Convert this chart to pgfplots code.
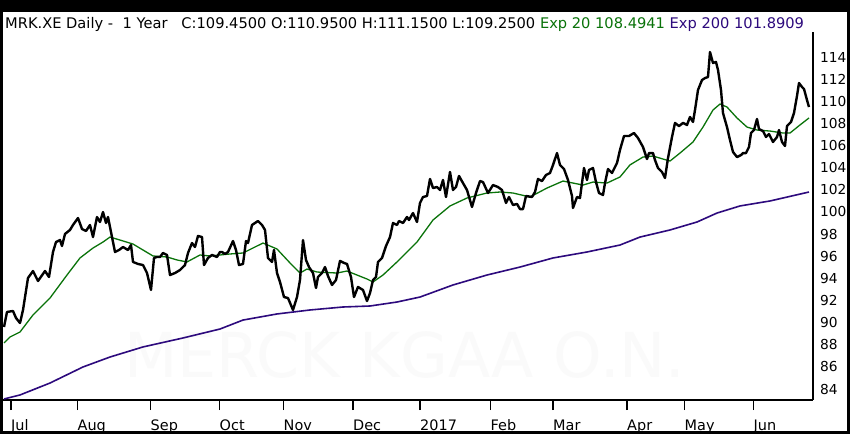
\documentclass[border=0pt]{standalone}
\usepackage{fontspec}
\setmainfont{DejaVu Sans}
\usepackage{pgfplots}
\pgfplotsset{compat=1.18}
\definecolor{emagreen}{RGB}{10,115,10}
\definecolor{emapurple}{RGB}{45,10,125}
\begin{document}
\begin{tikzpicture}
\begin{scope}[x=1bp,y=1bp]
\fill[black] (0,0) rectangle (850,434);
\fill[white] (3,3) rectangle (847,422);
\node[anchor=base west, inner sep=0pt, font=\fontsize{14.7}{16}\selectfont] at (5,405) {MRK.XE Daily -\ \ 1 Year\ \ \ C:109.4500 O:110.9500 H:111.1500 L:109.2500 \textcolor{emagreen}{Exp 20 108.4941} \textcolor{emapurple}{Exp 200 101.8909}};
\node[anchor=base west, inner sep=0pt, text=black!2, font=\fontsize{62}{70}\selectfont] at (124,57) {MERCK KGAA O.N.};
\end{scope}
\useasboundingbox (0bp,0bp) rectangle (850bp,434bp);
\begin{axis}[
  at={(3bp,34bp)}, anchor=south west,
  scale only axis, width=810bp, height=368bp,
  xmin=3, xmax=813, ymin=83.006, ymax=116.26,
  axis x line*=bottom, axis y line*=right,
  axis line style={-, line width=1.8bp, black},
  xtick={11,77.5,150.5,219.5,283.5,353,420,490.5,553,627,684.5,753.5},
  xticklabels={Jul,Aug,Sep,Oct,Nov,Dec,2017,Feb,Mar,Apr,May,Jun},
  ytick={84,86,...,114},
  tick align=outside,
  major tick length=10bp,
  xtick style={line width=1.8bp, black},
  ytick style={draw=none},
  yticklabel pos=right,
  xticklabel style={font=\fontsize{14.5}{16}\selectfont, anchor=base west, inner sep=0pt, yshift=-20bp},
  yticklabel style={font=\fontsize{13.8}{16}\selectfont, anchor=west, inner sep=0pt, xshift=-3bp},
  /pgf/number format/assume math mode=true,
  clip=false,
]
% EMA 200
\addplot[emapurple, line width=1.6bp] coordinates {
(4,83.10) (20,83.46) (50,84.54) (83,85.99) (110,86.89) (143,87.80) (183,88.61) (220,89.42)
(243,90.23) (277,90.78) (310,91.14) (343,91.41) (370,91.50) (397,91.86) (420,92.31) (453,93.40)
(487,94.30) (520,95.02) (553,95.84) (587,96.38) (620,97.01) (640,97.73) (670,98.37) (697,99.09)
(717,99.90) (740,100.54) (770,100.99) (809,101.80)
};
% EMA 20
\addplot[emagreen, line width=1.3bp] coordinates {
(4,88.16) (10,88.70) (20,89.15) (33,90.69) (50,92.22) (67,94.30) (80,95.84) (93,96.74)
(103,97.28) (110,97.73) (120,97.46) (133,97.10) (143,96.56) (153,96.02) (167,95.93) (177,95.66)
(187,95.48) (200,96.11) (210,96.02) (230,96.20) (243,96.29) (263,97.19) (277,96.65) (290,95.39)
(300,94.48) (307,94.84) (317,94.57) (337,94.48) (347,94.66) (357,94.30) (367,93.94) (373,93.67)
(383,94.30) (397,95.48) (417,97.28) (433,99.27) (450,100.54) (467,101.26) (487,101.71)
(500,101.80) (513,101.71) (530,101.35) (547,102.16) (563,102.79) (573,102.61) (583,102.43)
(593,102.70) (607,102.61) (620,103.16) (630,104.25) (643,104.96) (653,105.05) (663,104.78)
(670,104.60) (680,105.32) (693,106.32) (703,107.67) (713,109.21) (720,109.75) (727,109.48)
(737,108.49) (747,107.67) (757,107.40) (770,107.31) (783,107.13) (790,107.13) (800,107.86)
(809,108.49)
};
% Price
\addplot[black, line width=2.4bp, line join=round] coordinates {
(4,89.60) (7,90.96) (13,91.05) (16,90.42) (20,89.96) (23,91.14) (28,94.03) (33,94.66)
(38,93.76) (45,94.66) (49,94.12) (53,96.38) (56,97.28) (60,97.46) (62,96.92) (65,98.01)
(70,98.37) (73,98.82) (78,99.45) (82,98.46) (86,98.28) (90,98.82) (93,97.73) (97,99.54)
(100,99.09) (103,99.99) (106,99.00) (108,99.54) (112,97.73) (115,96.38) (119,96.56) (123,96.83)
(128,96.56) (131,97.01) (133,95.48) (138,95.30) (143,95.20) (147,94.48) (151,92.95) (154,95.84)
(157,95.93) (160,95.93) (163,96.29) (167,96.11) (170,94.30) (175,94.48) (180,94.75) (185,95.20)
(188,96.29) (192,97.19) (195,96.83) (198,97.83) (202,97.73) (204,95.20) (208,95.84) (212,96.11)
(217,95.93) (220,96.38) (222,96.38) (225,96.20) (228,96.38) (233,97.37) (236,96.56) (239,95.20)
(243,95.30) (246,97.37) (248,97.19) (252,98.82) (255,99.00) (258,99.18) (262,98.82) (265,98.37)
(268,95.84) (272,95.48) (274,96.56) (277,94.48) (280,93.67) (284,92.31) (288,92.22) (293,91.14)
(297,92.31) (300,93.85) (303,97.46) (306,95.66) (309,95.02) (313,94.48) (316,93.13) (318,94.12)
(322,94.48) (325,95.02) (328,94.21) (332,93.40) (336,93.85) (340,95.57) (344,95.39) (347,95.30)
(351,94.12) (354,92.31) (358,93.22) (363,92.95) (367,91.95) (370,92.67) (373,93.85) (376,94.12)
(378,95.48) (382,95.84) (386,96.92) (390,97.73) (393,99.00) (397,98.82) (399,99.18) (403,99.00)
(407,99.54) (409,99.27) (413,99.90) (417,99.09) (420,100.81) (423,101.35) (427,101.44)
(430,102.98) (433,102.16) (437,102.25) (440,101.98) (443,102.89) (446,101.35) (450,103.61)
(453,101.98) (456,102.25) (459,103.25) (463,102.61) (467,101.98) (472,100.45) (476,101.71)
(480,102.79) (483,102.70) (488,101.71) (493,102.43) (498,102.25) (502,101.98) (506,100.81)
(509,101.35) (513,100.63) (517,100.72) (520,100.26) (523,100.26) (526,101.44) (532,101.35)
(535,101.80) (538,102.98) (542,102.79) (546,103.34) (550,103.52) (553,104.24) (557,105.32)
(560,104.24) (564,103.88) (568,102.89) (572,101.44) (573,100.36) (577,101.35) (580,101.26)
(584,103.97) (587,102.89) (589,103.79) (593,103.97) (596,102.70) (599,101.71) (603,101.53)
(605,102.61) (608,103.88) (612,103.52) (617,104.42) (620,105.60) (624,106.86) (629,106.86)
(634,107.13) (638,106.68) (643,105.87) (647,104.78) (649,105.32) (653,105.32) (655,104.69)
(658,103.97) (662,103.61) (665,103.07) (668,104.87) (672,106.77) (675,108.04) (679,107.76)
(683,108.04) (687,107.86) (690,108.58) (693,108.13) (695,109.21) (698,111.02) (702,111.92)
(705,112.10) (708,112.19) (710,114.45) (713,113.46) (716,113.55) (718,112.83) (721,111.02)
(723,108.94) (727,107.67) (730,106.50) (733,105.42) (737,104.96) (741,105.14) (743,105.32)
(746,105.32) (749,105.87) (751,107.13) (754,107.40) (757,108.40) (759,107.49) (763,107.31)
(766,106.77) (769,107.04) (773,106.32) (777,106.77) (779,107.40) (782,106.32) (785,105.96)
(787,107.76) (791,108.13) (794,108.94) (797,110.48) (799,111.65) (802,111.29) (804,111.11)
(807,110.11) (809,109.48)
};
\end{axis}
\end{tikzpicture}
\end{document}
